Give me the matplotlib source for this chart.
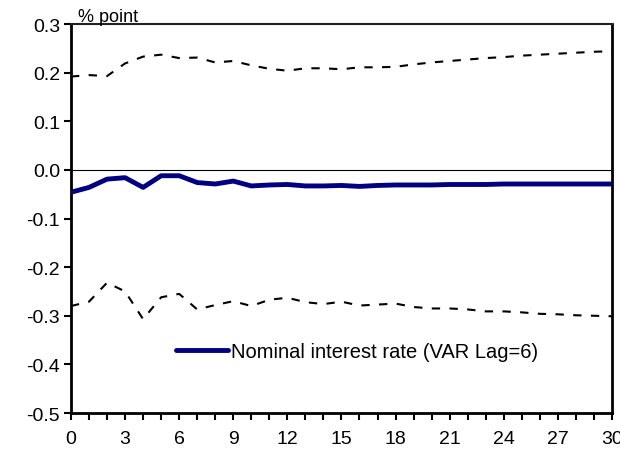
import numpy as np
import matplotlib
matplotlib.use("Agg")
import matplotlib.pyplot as plt
from matplotlib.ticker import MultipleLocator, FormatStrFormatter

plt.rcParams['font.family'] = ['Liberation Sans', 'DejaVu Sans']
plt.rcParams['axes.unicode_minus'] = False

# impulse response horizon
horizon = list(range(31))

# point estimate
response = [-0.046, -0.036, -0.019, -0.016, -0.036, -0.012, -0.012, -0.026,
            -0.029, -0.023, -0.033, -0.031, -0.030, -0.033, -0.033, -0.032,
            -0.034, -0.032, -0.031, -0.031, -0.031, -0.030, -0.030, -0.030,
            -0.029, -0.029, -0.029, -0.029, -0.029, -0.029, -0.029]

# confidence bands
upper = [0.192, 0.195, 0.193, 0.219, 0.233, 0.237, 0.230, 0.231, 0.221,
         0.224, 0.215, 0.208, 0.204, 0.209, 0.209, 0.207, 0.211, 0.211,
         0.212, 0.217, 0.221, 0.224, 0.227, 0.230, 0.232, 0.235, 0.237,
         0.239, 0.241, 0.243, 0.244]
lower = [-0.280, -0.271, -0.232, -0.250, -0.307, -0.262, -0.255, -0.287,
         -0.278, -0.270, -0.280, -0.267, -0.263, -0.272, -0.276, -0.271,
         -0.279, -0.277, -0.275, -0.282, -0.285, -0.285, -0.287, -0.291,
         -0.291, -0.293, -0.296, -0.297, -0.299, -0.300, -0.301]

fig = plt.figure(figsize=(6.2, 4.56), dpi=100)
ax = fig.add_axes([0.1145, 0.0921, 0.8725, 0.853])

ax.axhline(0, color='black', lw=0.8, zorder=1)
ax.plot(horizon, upper, color='black', lw=1.5, dashes=(4, 4.5), zorder=2)
ax.plot(horizon, lower, color='black', lw=1.5, dashes=(4, 4.5), zorder=2)
ax.plot(horizon, response, color='#000080', lw=3.5, zorder=3,
        solid_capstyle='round', label='Nominal interest rate (VAR Lag=6)')

ax.set_xlim(0, 30)
ax.set_ylim(-0.5, 0.3)
ax.xaxis.set_major_locator(MultipleLocator(3))
ax.xaxis.set_minor_locator(MultipleLocator(1))
ax.yaxis.set_major_locator(MultipleLocator(0.1))
ax.yaxis.set_major_formatter(FormatStrFormatter('%.1f'))

ax.tick_params(axis='both', which='both', direction='out', length=5,
               width=1.5, labelsize=14)
ax.tick_params(axis='x', pad=7)
ax.tick_params(axis='y', pad=3)

for side in ['left', 'bottom', 'right']:
    ax.spines[side].set_linewidth(2)
    ax.spines[side].set_color('black')
ax.spines['top'].set_linewidth(1.5)
ax.spines['top'].set_color('#222222')

ax.text(0.013, 1.008, '% point', transform=ax.transAxes, fontsize=13,
        va='baseline', ha='left')

ax.legend(loc='center left', bbox_to_anchor=(0.194, 0.159), frameon=False,
          borderpad=0, borderaxespad=0, handlelength=2.6, handletextpad=0.12,
          fontsize=14.5)

fig.savefig('out.png', dpi=100)
